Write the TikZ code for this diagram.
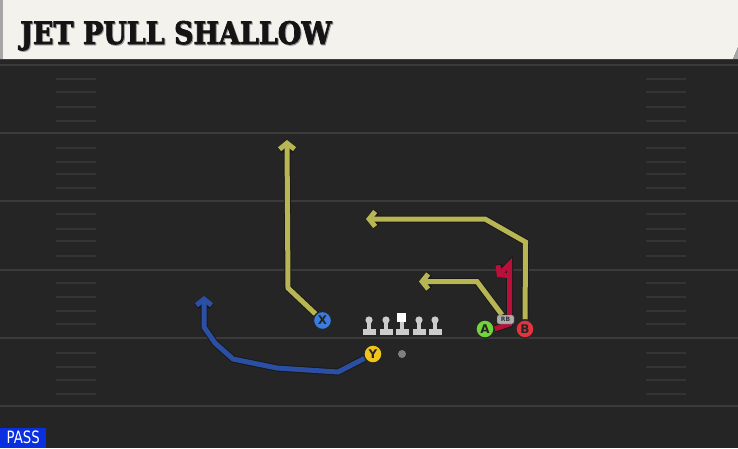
\documentclass[tikz,border=0pt]{standalone}
\usepackage{fontspec}
\setmainfont{DejaVu Sans}
\newfontfamily\titlefont{DejaVu Serif}[BoldFeatures={FakeBold=2.5}]
\usetikzlibrary{arrows.meta}
\definecolor{fieldbg}{HTML}{252525}
\definecolor{fieldline}{HTML}{3B3B3B}
\definecolor{hashline}{HTML}{343434}
\definecolor{headerbg}{HTML}{F4F2EC}
\definecolor{routey}{HTML}{B8B653}
\definecolor{routeb}{HTML}{2C4FA6}
\definecolor{router}{HTML}{B8103A}
\definecolor{passblue}{HTML}{0A2FE0}
\pgfdeclarelayer{field}
\pgfdeclarelayer{routes}
\pgfsetlayers{field,routes,main}
\tikzset{
  player/.style={circle, draw=black!85, line width=1.2pt, minimum size=18pt, inner sep=0pt,
    font=\bfseries\fontsize{12}{12}\selectfont, text=black!85},
  route/.style={line width=5pt, draw=#1, line join=miter,
    preaction={draw=black!90, line width=7pt}},
  tip/.style={-{Straight Barb[length=6pt,width=15pt]}},
  lineman/.style={fill=black!20},
}
\begin{document}
\begin{tikzpicture}[x=1pt, y=-1pt]
  \useasboundingbox (0,0) rectangle (738,448);

  \begin{pgfonlayer}{field}
  \fill[fieldbg] (0,0) rectangle (738,448);
  % yard lines
  \foreach \y in {65,133,201,270,338,406}
    \draw[fieldline, line width=2.5pt] (0,\y) -- (738,\y);
  % hash marks
  \foreach \y in {79,92,107,121,148,162,174,188,214,229,241,256,283,297,311,324,353,367,380,394} {
    \draw[hashline, line width=2pt] (56,\y) -- (96,\y);
    \draw[hashline, line width=2pt] (646,\y) -- (686,\y);
  }
  % header
  \fill[black!85] (0,58) rectangle (738,63);
  \fill[headerbg] (0,0) -- (738,0) -- (738,47) -- (733,59) -- (0,59) -- cycle;
  \fill[black!35] (0,0) rectangle (3,59);
  \fill[black!35] (738,47) -- (738,59) -- (733,59) -- cycle;
  \end{pgfonlayer}

  \node[anchor=base west, inner sep=0pt, text=black!40] at (21,45)
    {\titlefont\bfseries\fontsize{31}{31}\selectfont\scalebox{0.87}[1]{JET PULL SHALLOW}};
  \node[anchor=base west, inner sep=0pt, text=black!92] (title) at (20,44)
    {\titlefont\bfseries\fontsize{31}{31}\selectfont\scalebox{0.87}[1]{JET PULL SHALLOW}};

  % play type
  \node[fill=passblue, text=white, anchor=south west, minimum width=46pt, minimum height=20pt,
    inner sep=0pt, font=\fontsize{17}{17}\selectfont] (pass) at (0,448) {\scalebox{0.78}[1]{PASS}};

  % offensive line
  \foreach \x/\n in {369/LT, 386/LG, 419/RG, 435/RT} {
    \fill[lineman] (\x,320) circle (3.6pt);
    \fill[lineman] (\x-2,322) rectangle (\x+2,329);
    \fill[lineman] (\x-6.5,329) rectangle (\x+6.5,334.5);
    \coordinate (\n) at (\x,326);
  }
  \fill[white] (397,313) rectangle (406,322);
  \fill[lineman] (400,322) rectangle (404,329);
  \fill[lineman] (395.5,329) rectangle (408.5,334.5);
  \coordinate (C) at (402,326);
  \node[circle, fill=black!50, minimum size=8pt, inner sep=0pt] (ball) at (402,354) {};

  % players
  \node[player, fill={rgb,255:red,59;green,125;blue,222}] (X) at (322.5,320.5) {X};
  \node[player, fill={rgb,255:red,242;green,196;blue,27}] (Y) at (373,354) {Y};
  \node[player, fill={rgb,255:red,112;green,212;blue,58}] (A) at (485,329) {A};
  \node[player, fill={rgb,255:red,226;green,52;blue,60}] (B) at (525,329) {B};
  \node[fill=black!32, draw=black!70, rounded corners=2pt, minimum width=17pt, minimum height=9pt,
    inner sep=0pt, font=\bfseries\fontsize{6}{6}\selectfont, text=black!80] (RB) at (505.5,319.5) {RB};

  % route ends
  \coordinate (xend) at (287,140);
  \coordinate (bend) at (366,219);
  \coordinate (rbend) at (419,281.5);
  \coordinate (yend) at (204,296);
  \coordinate (aend) at (497,277);

  \begin{pgfonlayer}{routes}
  \draw[route=routey, tip] (X) -- (288,288) -- (xend);
  \draw[route=routey, tip] (B) -- (525.5,242) -- (485,219) -- (bend);
  \draw[route=routey, tip] (RB) -- (477,281.5) -- (rbend);
  \draw[route=routeb, tip] (Y) -- (338,372) -- (277,368) -- (233,359) -- (215,343) -- (204,327) -- (yend);
  \draw[route=router, tip] (A.east) -- (509.5,324) -- (509.5,264) -- (aend);
  \end{pgfonlayer}
\end{tikzpicture}
\end{document}
